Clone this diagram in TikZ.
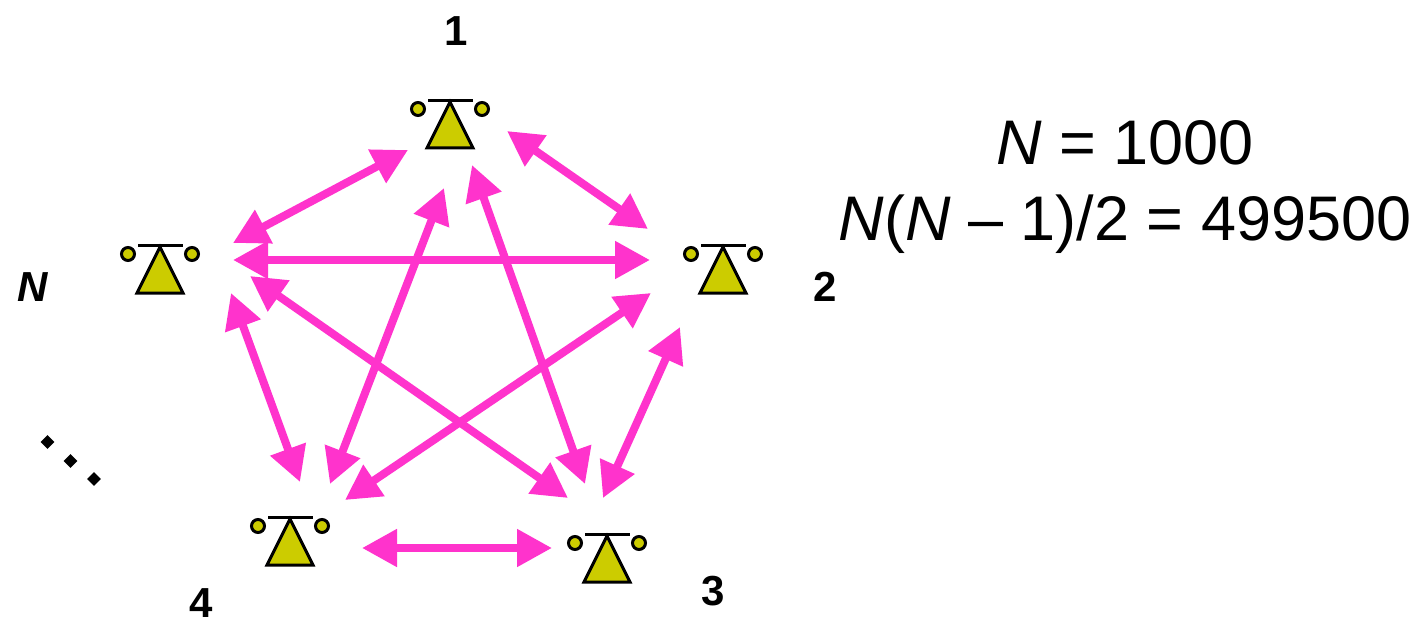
\documentclass[tikz,border=0pt]{standalone}
\usepackage{fontspec}
\setmainfont{Liberation Sans}
\usetikzlibrary{arrows.meta,shapes.geometric}
\definecolor{linkpink}{HTML}{FF33CC}
\definecolor{stationyellow}{HTML}{CCCC00}
\tikzset{
  link/.style={line width=8pt, draw=linkpink, {Triangle[length=35pt,width=36pt]}-{Triangle[length=35pt,width=36pt]}},
  numlabel/.style={inner sep=0pt, font=\bfseries\fontsize{42}{50}\selectfont},
  formula/.style={inner sep=0pt, anchor=base, font=\fontsize{63}{75}\selectfont},
  dotmark/.style={diamond, fill=black, inner sep=0pt, minimum size=14pt},
  station/.pic={
    \draw[line width=3pt, fill=stationyellow, miter limit=10] (0,2) -- (23,48) -- (-23,48) -- cycle;
    \draw[line width=3pt] (-22,0.5) -- (23,0.5);
    \draw[line width=3pt, fill=stationyellow] (-32,9) circle (6.5);
    \draw[line width=3pt, fill=stationyellow] (32,9) circle (6.5);
  }
}
\begin{document}
\begin{tikzpicture}[x=1pt,y=-1pt]
  \useasboundingbox (0,0) rectangle (1426,620);
  % stations, placed by the middle of the top bar
  \pic at (450,100) {station};
  \pic at (723,245) {station};
  \pic at (607,534) {station};
  \pic at (290,517) {station};
  \pic at (160,245) {station};
  % station numbers
  \node[numlabel] (num1) at (456,31) {1};
  \node[numlabel] (num2) at (825,287) {2};
  \node[numlabel] (num3) at (713,591) {3};
  \node[numlabel] (num4) at (201,603) {4};
  \node[numlabel] (numN) at (33,287) {\itshape N};
  % trailing dots between 4 and N
  \node[dotmark] (dot1) at (47.5,442) {};
  \node[dotmark] (dot2) at (70.5,461) {};
  \node[dotmark] (dot3) at (94,479) {};
  % ends of the links, the first index names the station it points to
  \coordinate (e1N) at (408,150);  \coordinate (eN1) at (233,243);
  \coordinate (e12) at (507,131);  \coordinate (e21) at (648,229);
  \coordinate (eN2) at (233,260);  \coordinate (e2N) at (650,260);
  \coordinate (e14) at (444,188);  \coordinate (e41) at (330,484);
  \coordinate (e13) at (472,165);  \coordinate (e31) at (585,484);
  \coordinate (e24) at (651,293);  \coordinate (e42) at (345,500);
  \coordinate (eN3) at (250,276);  \coordinate (e3N) at (568,498);
  \coordinate (e23) at (680,327);  \coordinate (e32) at (603,498);
  \coordinate (eN4) at (231,293);  \coordinate (e4N) at (300,482);
  \coordinate (e43) at (362,548);  \coordinate (e34) at (552,548);
  \foreach \a/\b in {e1N/eN1,e12/e21,eN2/e2N,e14/e41,e13/e31,e24/e42,eN3/e3N,e23/e32,eN4/e4N,e43/e34} {
    \draw[link] (\a) -- (\b);
  }
  % the count of links
  \node[formula] (count) at (1125,165) {\textit{N} = 1000};
  \node[formula] (pairs) at (1125,241) {\textit{N}(\textit{N} – 1)/2 = 499500};
\end{tikzpicture}
\end{document}
